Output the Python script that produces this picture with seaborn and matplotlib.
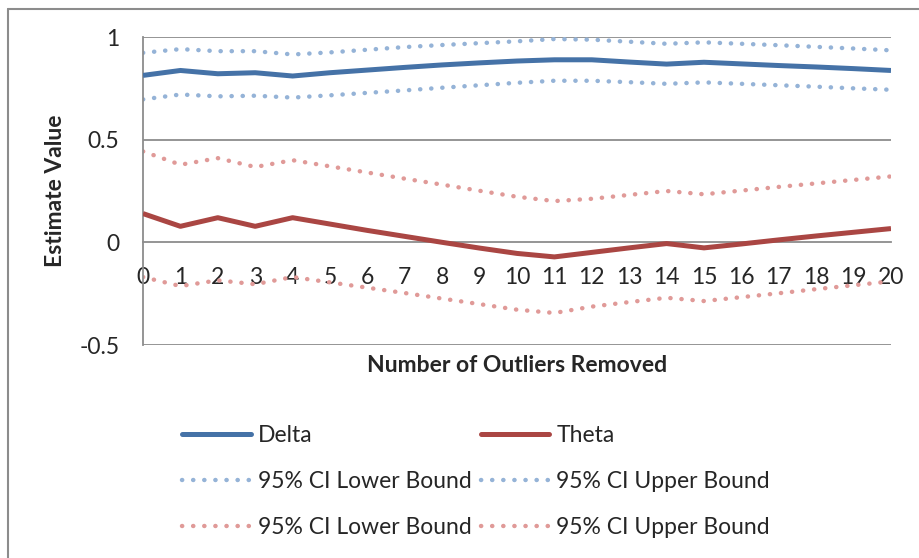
import numpy as np
import pandas as pd
import seaborn as sns
import matplotlib
matplotlib.use("Agg")
import matplotlib.pyplot as plt
from matplotlib.lines import Line2D

# ---- data ----
outliers_removed = list(range(21))
delta = [0.813, 0.837, 0.821, 0.826, 0.810, 0.826, 0.839, 0.852, 0.864, 0.874, 0.883,
         0.889, 0.889, 0.878, 0.868, 0.877, 0.869, 0.861, 0.854, 0.846, 0.837]
delta_lower = [0.696, 0.720, 0.711, 0.714, 0.705, 0.716, 0.728, 0.740, 0.753, 0.765, 0.777,
               0.787, 0.787, 0.780, 0.772, 0.779, 0.772, 0.765, 0.758, 0.750, 0.743]
delta_upper = [0.923, 0.941, 0.931, 0.931, 0.915, 0.925, 0.938, 0.951, 0.961, 0.970, 0.979,
               0.990, 0.987, 0.977, 0.967, 0.974, 0.967, 0.960, 0.952, 0.944, 0.935]
theta = [0.140, 0.078, 0.120, 0.078, 0.120, 0.089, 0.058, 0.029, 0.000, -0.028, -0.054,
         -0.071, -0.049, -0.027, -0.006, -0.027, -0.008, 0.012, 0.031, 0.049, 0.067]
theta_lower = [-0.169, -0.213, -0.185, -0.204, -0.169, -0.195, -0.221, -0.247, -0.274, -0.301, -0.328,
               -0.344, -0.313, -0.291, -0.270, -0.286, -0.267, -0.248, -0.228, -0.209, -0.190]
theta_upper = [0.443, 0.378, 0.410, 0.367, 0.400, 0.370, 0.340, 0.310, 0.281, 0.251, 0.222,
               0.201, 0.212, 0.231, 0.250, 0.234, 0.252, 0.270, 0.287, 0.304, 0.321]
y_ticks = [-0.5, 0, 0.5, 1]
y_tick_labels = ["-0.5", "0", "0.5", "1"]

series = [
    ("Delta", delta, "#4572A7", "solid"),
    ("95% CI Lower Bound", delta_lower, "#95B3D7", "dot"),
    ("95% CI Lower Bound", theta_lower, "#E09A98", "dot"),
    ("Theta", theta, "#AA4643", "solid"),
    ("95% CI Upper Bound", delta_upper, "#95B3D7", "dot"),
    ("95% CI Upper Bound", theta_upper, "#E09A98", "dot"),
]

sns.set_style("white")
plt.rcParams['font.family'] = ['Lato', 'DejaVu Sans']
FS = 16.5

fig = plt.figure(figsize=(9.2, 5.58), dpi=100)
ax = fig.add_axes([143/920, 1-345/558, (891-143)/920, (345-37)/558])

grid_c = "#8c8c8c"
for yv in [1, 0.5, -0.5]:
    ax.axhline(yv, color=grid_c, lw=1.3, zorder=0)

SOLID_LW = 3.6
DOT_LW = 3.2
DOT_PAT = (0.05, 2.45)

handles = []
for label, vals, color, style in series:
    df = pd.DataFrame({"x": outliers_removed, "y": vals})
    if style == "solid":
        kw = dict(linewidth=SOLID_LW, solid_capstyle="butt", zorder=3)
    else:
        kw = dict(linewidth=DOT_LW, dashes=DOT_PAT, dash_capstyle="round", zorder=2)
    sns.lineplot(data=df, x="x", y="y", color=color, ax=ax, legend=False, **kw)
    if style == "solid":
        h = Line2D([], [], color=color, linewidth=SOLID_LW, solid_capstyle="round")
    else:
        h = Line2D([], [], color=color, linewidth=DOT_LW, linestyle=(0, DOT_PAT),
                   dash_capstyle="round")
    handles.append((h, label))

ax.set_xlim(0, 20)
ax.set_ylim(-0.5, 1)
ax.set_xticks(outliers_removed)
ax.set_xticklabels([str(v) for v in outliers_removed])
ax.set_yticks(y_ticks)
ax.set_yticklabels(y_tick_labels)

for s in ["top", "right"]:
    ax.spines[s].set_visible(False)
ax.spines["bottom"].set_position(("data", 0))
ax.spines["bottom"].set_color(grid_c)
ax.spines["left"].set_color(grid_c)
ax.spines["bottom"].set_linewidth(1.3)
ax.spines["left"].set_linewidth(1.3)

ax.tick_params(axis="x", direction="in", length=5, width=1.3, color=grid_c,
               labelsize=FS, pad=18)
ax.tick_params(axis="y", direction="out", length=5, width=1.3, color=grid_c,
               labelsize=FS, pad=12)

ax.set_xlabel("")
ax.set_ylabel("")
fig.text(517/920, 1-366/558, "Number of Outliers Removed", ha="center", va="center",
         fontsize=FS, fontweight="bold")
fig.text(56/920, 1-191/558, "Estimate Value", ha="center", va="center",
         rotation=90, fontsize=FS, fontweight="bold")

leg = fig.legend([h for h, _ in handles], [l for _, l in handles], ncol=2,
                 loc="upper left", bbox_to_anchor=(182/920, 1-425/558),
                 frameon=False, fontsize=FS, handlelength=3.0, handletextpad=0.3,
                 columnspacing=0.4, labelspacing=1.1, borderpad=0, borderaxespad=0)

# outer chart border (partially visible)
fig.add_artist(Line2D([8/920, 1], [1-9/558, 1-9/558], color="#8c8c8c", lw=1.5))
fig.add_artist(Line2D([8/920, 8/920], [0, 1-9/558], color="#8c8c8c", lw=1.5))

fig.savefig("out.png", dpi=100)
